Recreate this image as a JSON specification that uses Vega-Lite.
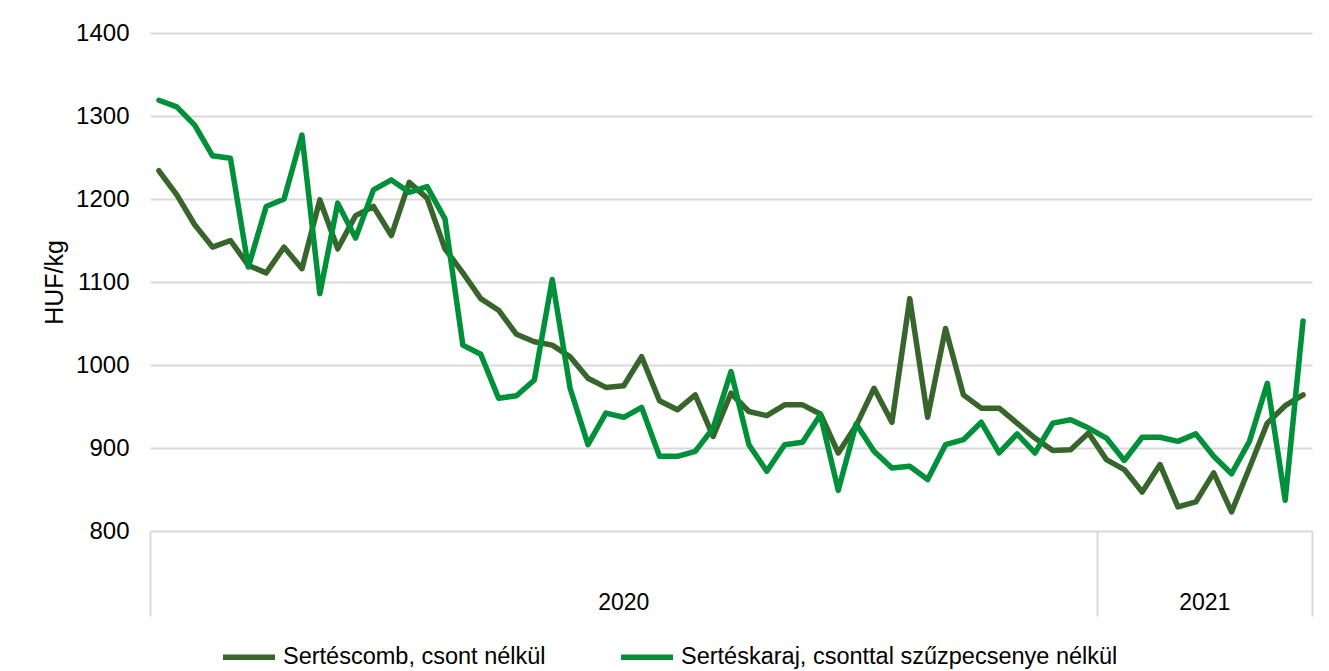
{
  "$schema": "https://vega.github.io/schema/vega-lite/v6.json",
  "autosize": {"type": "none"},
  "width": 1162,
  "height": 498,
  "padding": {"left": 150, "top": 33, "right": 17, "bottom": 140},
  "background": "white",
  "config": {
    "font": "Liberation Sans",
    "view": {"stroke": null},
    "axis": {"labelFont": "Liberation Sans", "titleFont": "Liberation Sans"}
  },
  "datasets": {
    "prices": [
      {"i":1,"year":"2020","series":"Sertéscomb, csont nélkül","value":1234},
      {"i":2,"year":"2020","series":"Sertéscomb, csont nélkül","value":1205},
      {"i":3,"year":"2020","series":"Sertéscomb, csont nélkül","value":1169},
      {"i":4,"year":"2020","series":"Sertéscomb, csont nélkül","value":1142},
      {"i":5,"year":"2020","series":"Sertéscomb, csont nélkül","value":1150},
      {"i":6,"year":"2020","series":"Sertéscomb, csont nélkül","value":1120},
      {"i":7,"year":"2020","series":"Sertéscomb, csont nélkül","value":1111},
      {"i":8,"year":"2020","series":"Sertéscomb, csont nélkül","value":1142},
      {"i":9,"year":"2020","series":"Sertéscomb, csont nélkül","value":1116},
      {"i":10,"year":"2020","series":"Sertéscomb, csont nélkül","value":1199},
      {"i":11,"year":"2020","series":"Sertéscomb, csont nélkül","value":1140},
      {"i":12,"year":"2020","series":"Sertéscomb, csont nélkül","value":1180},
      {"i":13,"year":"2020","series":"Sertéscomb, csont nélkül","value":1191},
      {"i":14,"year":"2020","series":"Sertéscomb, csont nélkül","value":1156},
      {"i":15,"year":"2020","series":"Sertéscomb, csont nélkül","value":1220},
      {"i":16,"year":"2020","series":"Sertéscomb, csont nélkül","value":1201},
      {"i":17,"year":"2020","series":"Sertéscomb, csont nélkül","value":1140},
      {"i":18,"year":"2020","series":"Sertéscomb, csont nélkül","value":1111},
      {"i":19,"year":"2020","series":"Sertéscomb, csont nélkül","value":1080},
      {"i":20,"year":"2020","series":"Sertéscomb, csont nélkül","value":1066},
      {"i":21,"year":"2020","series":"Sertéscomb, csont nélkül","value":1037},
      {"i":22,"year":"2020","series":"Sertéscomb, csont nélkül","value":1028},
      {"i":23,"year":"2020","series":"Sertéscomb, csont nélkül","value":1024},
      {"i":24,"year":"2020","series":"Sertéscomb, csont nélkül","value":1010},
      {"i":25,"year":"2020","series":"Sertéscomb, csont nélkül","value":984},
      {"i":26,"year":"2020","series":"Sertéscomb, csont nélkül","value":973},
      {"i":27,"year":"2020","series":"Sertéscomb, csont nélkül","value":975},
      {"i":28,"year":"2020","series":"Sertéscomb, csont nélkül","value":1010},
      {"i":29,"year":"2020","series":"Sertéscomb, csont nélkül","value":957},
      {"i":30,"year":"2020","series":"Sertéscomb, csont nélkül","value":946},
      {"i":31,"year":"2020","series":"Sertéscomb, csont nélkül","value":964},
      {"i":32,"year":"2020","series":"Sertéscomb, csont nélkül","value":914},
      {"i":33,"year":"2020","series":"Sertéscomb, csont nélkül","value":966},
      {"i":34,"year":"2020","series":"Sertéscomb, csont nélkül","value":944},
      {"i":35,"year":"2020","series":"Sertéscomb, csont nélkül","value":939},
      {"i":36,"year":"2020","series":"Sertéscomb, csont nélkül","value":952},
      {"i":37,"year":"2020","series":"Sertéscomb, csont nélkül","value":952},
      {"i":38,"year":"2020","series":"Sertéscomb, csont nélkül","value":941},
      {"i":39,"year":"2020","series":"Sertéscomb, csont nélkül","value":894},
      {"i":40,"year":"2020","series":"Sertéscomb, csont nélkül","value":927},
      {"i":41,"year":"2020","series":"Sertéscomb, csont nélkül","value":972},
      {"i":42,"year":"2020","series":"Sertéscomb, csont nélkül","value":931},
      {"i":43,"year":"2020","series":"Sertéscomb, csont nélkül","value":1080},
      {"i":44,"year":"2020","series":"Sertéscomb, csont nélkül","value":937},
      {"i":45,"year":"2020","series":"Sertéscomb, csont nélkül","value":1044},
      {"i":46,"year":"2020","series":"Sertéscomb, csont nélkül","value":964},
      {"i":47,"year":"2020","series":"Sertéscomb, csont nélkül","value":948},
      {"i":48,"year":"2020","series":"Sertéscomb, csont nélkül","value":948},
      {"i":49,"year":"2020","series":"Sertéscomb, csont nélkül","value":930},
      {"i":50,"year":"2020","series":"Sertéscomb, csont nélkül","value":912},
      {"i":51,"year":"2020","series":"Sertéscomb, csont nélkül","value":897},
      {"i":52,"year":"2020","series":"Sertéscomb, csont nélkül","value":898},
      {"i":53,"year":"2020","series":"Sertéscomb, csont nélkül","value":918},
      {"i":54,"year":"2021","series":"Sertéscomb, csont nélkül","value":886},
      {"i":55,"year":"2021","series":"Sertéscomb, csont nélkül","value":874},
      {"i":56,"year":"2021","series":"Sertéscomb, csont nélkül","value":847},
      {"i":57,"year":"2021","series":"Sertéscomb, csont nélkül","value":880},
      {"i":58,"year":"2021","series":"Sertéscomb, csont nélkül","value":829},
      {"i":59,"year":"2021","series":"Sertéscomb, csont nélkül","value":835},
      {"i":60,"year":"2021","series":"Sertéscomb, csont nélkül","value":870},
      {"i":61,"year":"2021","series":"Sertéscomb, csont nélkül","value":823},
      {"i":62,"year":"2021","series":"Sertéscomb, csont nélkül","value":876},
      {"i":63,"year":"2021","series":"Sertéscomb, csont nélkül","value":930},
      {"i":64,"year":"2021","series":"Sertéscomb, csont nélkül","value":951},
      {"i":65,"year":"2021","series":"Sertéscomb, csont nélkül","value":964},
      {"i":1,"year":"2020","series":"Sertéskaraj, csonttal szűzpecsenye nélkül","value":1319},
      {"i":2,"year":"2020","series":"Sertéskaraj, csonttal szűzpecsenye nélkül","value":1311},
      {"i":3,"year":"2020","series":"Sertéskaraj, csonttal szűzpecsenye nélkül","value":1289},
      {"i":4,"year":"2020","series":"Sertéskaraj, csonttal szűzpecsenye nélkül","value":1252},
      {"i":5,"year":"2020","series":"Sertéskaraj, csonttal szűzpecsenye nélkül","value":1249},
      {"i":6,"year":"2020","series":"Sertéskaraj, csonttal szűzpecsenye nélkül","value":1118},
      {"i":7,"year":"2020","series":"Sertéskaraj, csonttal szűzpecsenye nélkül","value":1191},
      {"i":8,"year":"2020","series":"Sertéskaraj, csonttal szűzpecsenye nélkül","value":1200},
      {"i":9,"year":"2020","series":"Sertéskaraj, csonttal szűzpecsenye nélkül","value":1277},
      {"i":10,"year":"2020","series":"Sertéskaraj, csonttal szűzpecsenye nélkül","value":1086},
      {"i":11,"year":"2020","series":"Sertéskaraj, csonttal szűzpecsenye nélkül","value":1195},
      {"i":12,"year":"2020","series":"Sertéskaraj, csonttal szűzpecsenye nélkül","value":1153},
      {"i":13,"year":"2020","series":"Sertéskaraj, csonttal szűzpecsenye nélkül","value":1211},
      {"i":14,"year":"2020","series":"Sertéskaraj, csonttal szűzpecsenye nélkül","value":1223},
      {"i":15,"year":"2020","series":"Sertéskaraj, csonttal szűzpecsenye nélkül","value":1208},
      {"i":16,"year":"2020","series":"Sertéskaraj, csonttal szűzpecsenye nélkül","value":1215},
      {"i":17,"year":"2020","series":"Sertéskaraj, csonttal szűzpecsenye nélkül","value":1176},
      {"i":18,"year":"2020","series":"Sertéskaraj, csonttal szűzpecsenye nélkül","value":1024},
      {"i":19,"year":"2020","series":"Sertéskaraj, csonttal szűzpecsenye nélkül","value":1013},
      {"i":20,"year":"2020","series":"Sertéskaraj, csonttal szűzpecsenye nélkül","value":960},
      {"i":21,"year":"2020","series":"Sertéskaraj, csonttal szűzpecsenye nélkül","value":963},
      {"i":22,"year":"2020","series":"Sertéskaraj, csonttal szűzpecsenye nélkül","value":982},
      {"i":23,"year":"2020","series":"Sertéskaraj, csonttal szűzpecsenye nélkül","value":1103},
      {"i":24,"year":"2020","series":"Sertéskaraj, csonttal szűzpecsenye nélkül","value":972},
      {"i":25,"year":"2020","series":"Sertéskaraj, csonttal szűzpecsenye nélkül","value":904},
      {"i":26,"year":"2020","series":"Sertéskaraj, csonttal szűzpecsenye nélkül","value":942},
      {"i":27,"year":"2020","series":"Sertéskaraj, csonttal szűzpecsenye nélkül","value":937},
      {"i":28,"year":"2020","series":"Sertéskaraj, csonttal szűzpecsenye nélkül","value":949},
      {"i":29,"year":"2020","series":"Sertéskaraj, csonttal szűzpecsenye nélkül","value":890},
      {"i":30,"year":"2020","series":"Sertéskaraj, csonttal szűzpecsenye nélkül","value":890},
      {"i":31,"year":"2020","series":"Sertéskaraj, csonttal szűzpecsenye nélkül","value":896},
      {"i":32,"year":"2020","series":"Sertéskaraj, csonttal szűzpecsenye nélkül","value":924},
      {"i":33,"year":"2020","series":"Sertéskaraj, csonttal szűzpecsenye nélkül","value":992},
      {"i":34,"year":"2020","series":"Sertéskaraj, csonttal szűzpecsenye nélkül","value":904},
      {"i":35,"year":"2020","series":"Sertéskaraj, csonttal szűzpecsenye nélkül","value":872},
      {"i":36,"year":"2020","series":"Sertéskaraj, csonttal szűzpecsenye nélkül","value":904},
      {"i":37,"year":"2020","series":"Sertéskaraj, csonttal szűzpecsenye nélkül","value":907},
      {"i":38,"year":"2020","series":"Sertéskaraj, csonttal szűzpecsenye nélkül","value":940},
      {"i":39,"year":"2020","series":"Sertéskaraj, csonttal szűzpecsenye nélkül","value":849},
      {"i":40,"year":"2020","series":"Sertéskaraj, csonttal szűzpecsenye nélkül","value":929},
      {"i":41,"year":"2020","series":"Sertéskaraj, csonttal szűzpecsenye nélkül","value":896},
      {"i":42,"year":"2020","series":"Sertéskaraj, csonttal szűzpecsenye nélkül","value":876},
      {"i":43,"year":"2020","series":"Sertéskaraj, csonttal szűzpecsenye nélkül","value":878},
      {"i":44,"year":"2020","series":"Sertéskaraj, csonttal szűzpecsenye nélkül","value":862},
      {"i":45,"year":"2020","series":"Sertéskaraj, csonttal szűzpecsenye nélkül","value":904},
      {"i":46,"year":"2020","series":"Sertéskaraj, csonttal szűzpecsenye nélkül","value":910},
      {"i":47,"year":"2020","series":"Sertéskaraj, csonttal szűzpecsenye nélkül","value":931},
      {"i":48,"year":"2020","series":"Sertéskaraj, csonttal szűzpecsenye nélkül","value":894},
      {"i":49,"year":"2020","series":"Sertéskaraj, csonttal szűzpecsenye nélkül","value":917},
      {"i":50,"year":"2020","series":"Sertéskaraj, csonttal szűzpecsenye nélkül","value":894},
      {"i":51,"year":"2020","series":"Sertéskaraj, csonttal szűzpecsenye nélkül","value":930},
      {"i":52,"year":"2020","series":"Sertéskaraj, csonttal szűzpecsenye nélkül","value":934},
      {"i":53,"year":"2020","series":"Sertéskaraj, csonttal szűzpecsenye nélkül","value":924},
      {"i":54,"year":"2021","series":"Sertéskaraj, csonttal szűzpecsenye nélkül","value":912},
      {"i":55,"year":"2021","series":"Sertéskaraj, csonttal szűzpecsenye nélkül","value":885},
      {"i":56,"year":"2021","series":"Sertéskaraj, csonttal szűzpecsenye nélkül","value":913},
      {"i":57,"year":"2021","series":"Sertéskaraj, csonttal szűzpecsenye nélkül","value":913},
      {"i":58,"year":"2021","series":"Sertéskaraj, csonttal szűzpecsenye nélkül","value":908},
      {"i":59,"year":"2021","series":"Sertéskaraj, csonttal szűzpecsenye nélkül","value":917},
      {"i":60,"year":"2021","series":"Sertéskaraj, csonttal szűzpecsenye nélkül","value":890},
      {"i":61,"year":"2021","series":"Sertéskaraj, csonttal szűzpecsenye nélkül","value":869},
      {"i":62,"year":"2021","series":"Sertéskaraj, csonttal szűzpecsenye nélkül","value":908},
      {"i":63,"year":"2021","series":"Sertéskaraj, csonttal szűzpecsenye nélkül","value":978},
      {"i":64,"year":"2021","series":"Sertéskaraj, csonttal szűzpecsenye nélkül","value":837},
      {"i":65,"year":"2021","series":"Sertéskaraj, csonttal szűzpecsenye nélkül","value":1053}
    ]
  },
  "data": {"name": "prices"},
  "layer": [
    {
      "mark": {"type": "line", "strokeWidth": 5.5, "strokeJoin": "round", "strokeCap": "round"},
      "encoding": {
        "x": {
          "field": "i", "type": "quantitative",
          "scale": {"domain": [0.5, 65.5], "nice": false, "zero": false},
          "axis": {
            "values": [0.5, 53.5, 65.5], "labels": false, "grid": false, "domain": false,
            "ticks": true, "tickSize": 85, "tickColor": "#d9d9d9", "tickWidth": 2, "title": null
          }
        },
        "y": {
          "field": "value", "type": "quantitative",
          "scale": {"domain": [800, 1400], "nice": false, "zero": false},
          "axis": {
            "values": [800, 900, 1000, 1100, 1200, 1300, 1400], "format": "d",
            "grid": true, "gridColor": "#d9d9d9", "gridWidth": 2,
            "domain": false, "ticks": false, "tickSize": 0, "labelPadding": 21,
            "labelFontSize": 24, "labelColor": "#000000",
            "title": "HUF/kg", "titleFontSize": 25, "titleFontWeight": "normal",
            "titleColor": "#000000", "titlePadding": 8
          }
        },
        "color": {
          "field": "series", "type": "nominal",
          "scale": {
            "domain": ["Sertéscomb, csont nélkül", "Sertéskaraj, csonttal szűzpecsenye nélkül"],
            "range": ["#38652b", "#00903a"]
          },
          "legend": {
            "title": null, "orient": "none", "direction": "horizontal",
            "legendX": 70, "legendY": 595, "padding": 0,
            "symbolType": "stroke", "symbolSize": 2704, "symbolStrokeWidth": 5.5,
            "labelFontSize": 23.5, "labelColor": "#000000", "labelFont": "Liberation Sans",
            "labelLimit": 700, "labelOffset": 5, "columnPadding": 64
          }
        }
      }
    },
    {
      "mark": {"type": "text", "fontSize": 23, "color": "#000000", "baseline": "middle", "align": "center"},
      "encoding": {
        "x": {"aggregate": "mean", "field": "i", "type": "quantitative"},
        "y": {"datum": 713},
        "text": {"field": "year", "type": "nominal"}
      }
    }
  ]
}
